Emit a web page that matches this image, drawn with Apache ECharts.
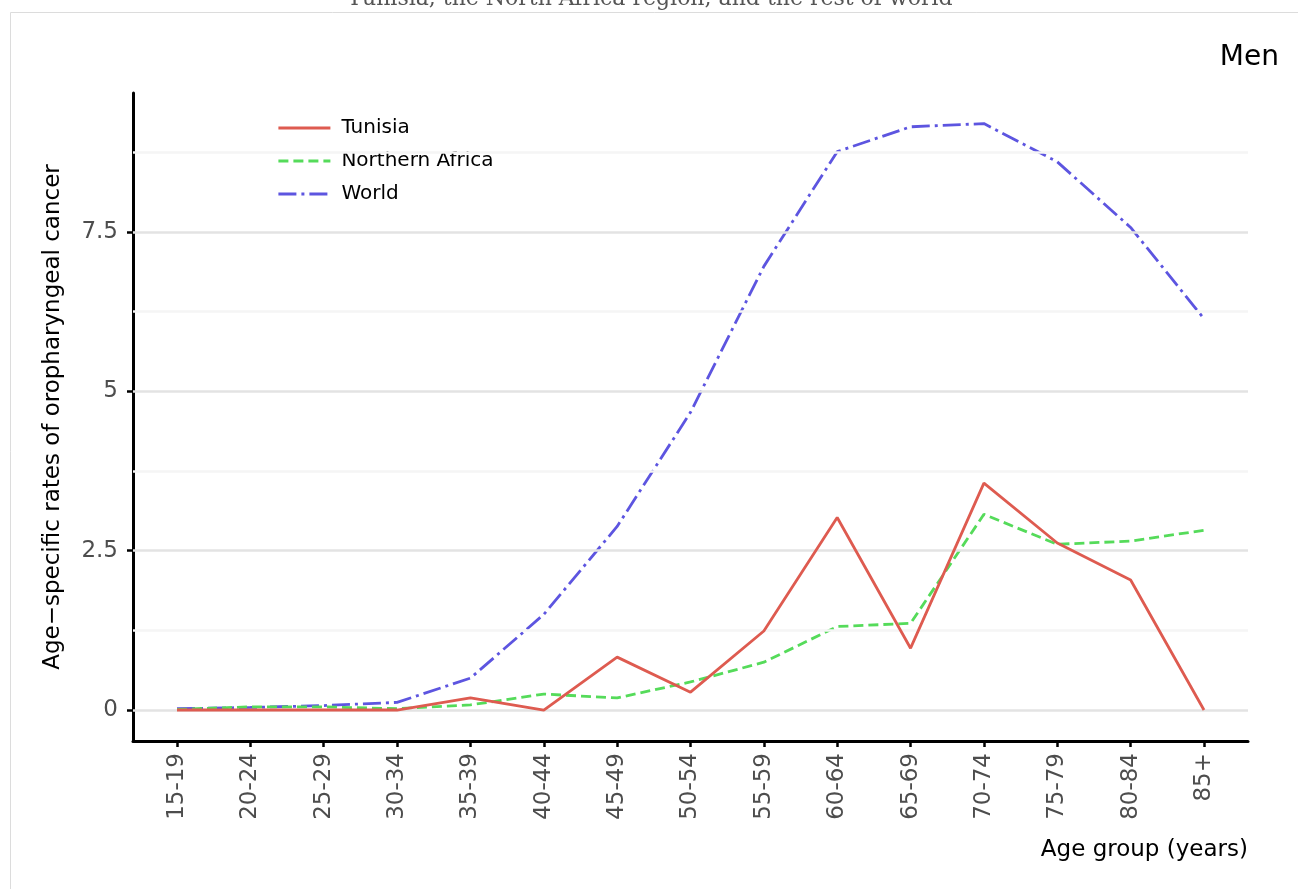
<!DOCTYPE html>
<html>
<head>
<meta charset="utf-8">
<script src="https://cdn.jsdelivr.net/npm/echarts@6/dist/echarts.min.js"></script>
<style>
  html, body { margin: 0; padding: 0; background: #fff; }
  #main { width: 1298px; height: 889px; }
</style>
</head>
<body>
<div id="main"></div>
<script>
// age groups on the x axis
var ageGroups = ['15-19', '20-24', '25-29', '30-34', '35-39', '40-44', '45-49', '50-54',
    '55-59', '60-64', '65-69', '70-74', '75-79', '80-84', '85+'];

// age-specific rates per series
var tunisia = [0, 0, 0, 0, 0.19, 0, 0.83, 0.28, 1.24, 3.02, 0.97, 3.56, 2.62, 2.04, 0];
var northernAfrica = [0.01, 0.05, 0.05, 0.02, 0.08, 0.25, 0.19, 0.44, 0.75, 1.31, 1.36, 3.07, 2.6, 2.65, 2.82];
var world = [0.02, 0.04, 0.07, 0.12, 0.5, 1.5, 2.88, 4.67, 6.96, 8.76, 9.15, 9.2, 8.6, 7.57, 6.14];

// y axis breaks
var yBreaks = [0, 2.5, 5, 7.5];
var yMinorBreaks = [1.25, 3.75, 6.25, 8.75];

var FONT = 'DejaVu Sans';

function toPairs(arr) {
    var out = [];
    for (var i = 0; i < arr.length; i++) {
        out.push([i, arr[i]]);
    }
    return out;
}

function render() {
    var myChart = echarts.init(document.getElementById('main'));

    var idx = [];
    for (var i = 0; i < ageGroups.length; i++) idx.push(i);

    var gridLines = [];
    for (var i = 0; i < yMinorBreaks.length; i++) {
        gridLines.push({ yAxis: yMinorBreaks[i], lineStyle: { color: '#f5f5f5', width: 2.5, type: 'solid' } });
    }
    for (var i = 0; i < yBreaks.length; i++) {
        gridLines.push({ yAxis: yBreaks[i], lineStyle: { color: '#e3e3e3', width: 2.5, type: 'solid' } });
    }

    var option = {
        animation: false,
        backgroundColor: '#fff',
        textStyle: { fontFamily: FONT },
        grid: { left: 133, right: 50, top: 93, bottom: 148 },
        legend: {
            data: ['Tunisia', 'Northern Africa', 'World'],
            orient: 'vertical',
            left: 272,
            top: 113,
            itemWidth: 52,
            itemHeight: 14,
            itemGap: 13,
            itemStyle: { opacity: 0 },
            lineStyle: { width: 2.8 },
            textStyle: { fontFamily: FONT, fontSize: 20, color: '#000', padding: [0, 0, 0, 6] }
        },
        xAxis: {
            type: 'value',
            min: -0.6,
            max: 14.6,
            splitLine: { show: false },
            axisLine: { onZero: false, lineStyle: { color: '#000', width: 3 } },
            axisTick: { customValues: idx, length: 6, lineStyle: { color: '#000', width: 2.5 } },
            axisLabel: {
                customValues: idx,
                rotate: 90,
                margin: 12,
                color: '#4d4d4d',
                fontFamily: FONT,
                fontSize: 23,
                formatter: function (v) { return ageGroups[v]; }
            }
        },
        yAxis: {
            type: 'value',
            min: -0.486,
            max: 9.68,
            splitLine: { show: false },
            axisLine: { onZero: false, lineStyle: { color: '#000', width: 3 } },
            axisTick: { customValues: yBreaks, length: 6, lineStyle: { color: '#000', width: 2.5 } },
            axisLabel: {
                customValues: yBreaks,
                margin: 15,
                color: '#4d4d4d',
                fontFamily: FONT,
                fontSize: 23
            },
            name: 'Age\u2212specific rates of oropharyngeal cancer',
            nameLocation: 'middle',
            nameGap: 68,
            nameTextStyle: { fontFamily: FONT, fontSize: 23, color: '#000' }
        },
        series: [
            {
                type: 'line',
                data: [],
                silent: true,
                z: 1,
                markLine: {
                    silent: true,
                    symbol: 'none',
                    label: { show: false },
                    emphasis: { disabled: true },
                    data: gridLines
                }
            },
            {
                name: 'Tunisia',
                type: 'line',
                symbol: 'none',
                z: 5,
                color: '#de5b50',
                lineStyle: { color: '#de5b50', width: 2.8, type: 'solid' },
                data: toPairs(tunisia)
            },
            {
                name: 'Northern Africa',
                type: 'line',
                symbol: 'none',
                z: 4,
                color: '#55db5a',
                lineStyle: { color: '#55db5a', width: 2.8, type: [10, 5] },
                data: toPairs(northernAfrica)
            },
            {
                name: 'World',
                type: 'line',
                symbol: 'none',
                z: 3,
                color: '#5d55e0',
                lineStyle: { color: '#5d55e0', width: 2.8, type: [18, 5, 3, 5] },
                data: toPairs(world)
            }
        ],
        graphic: [
            {
                type: 'rect',
                silent: true,
                shape: { x: 10.5, y: 12.5, width: 1400, height: 1000 },
                style: { fill: null, stroke: '#dcdcdc', lineWidth: 1 }
            },
            {
                type: 'text',
                silent: true,
                style: {
                    text: 'Tunisia, the North Africa region, and the rest of world',
                    x: 650, y: 10,
                    align: 'center', verticalAlign: 'bottom',
                    font: '22px "DejaVu Serif"', fill: '#555'
                }
            },
            {
                type: 'text',
                silent: true,
                style: {
                    text: 'Men',
                    x: 1279, y: 58,
                    align: 'right', verticalAlign: 'middle',
                    font: '28px "DejaVu Sans"', fill: '#000'
                }
            },
            {
                type: 'text',
                silent: true,
                style: {
                    text: 'Age group (years)',
                    x: 1248, y: 850,
                    align: 'right', verticalAlign: 'middle',
                    font: '23px "DejaVu Sans"', fill: '#000'
                }
            }
        ]
    };

    myChart.setOption(option);
}

render();
</script>
</body>
</html>
